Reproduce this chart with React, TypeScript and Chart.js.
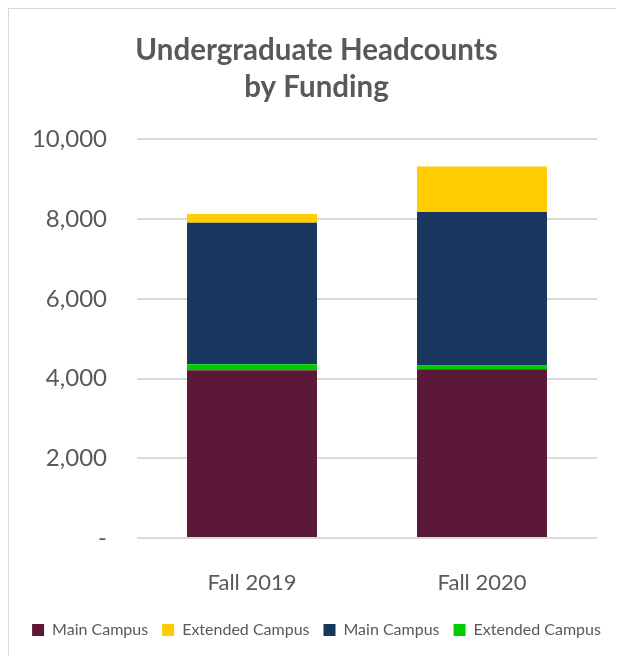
import React, { useEffect, useRef } from "react";
import { Chart, registerables } from "chart.js";

Chart.register(...registerables);

const titleLines = ["Undergraduate Headcounts", "by Funding"];
const categories = ["Fall 2019", "Fall 2020"];
const seriesLabels = ["Main Campus", "Extended Campus", "Main Campus", "Extended Campus"];
// stacked bottom → top: maroon, green, navy, gold
const maroonValues = [4210, 4230];
const greenValues = [150, 100];
const navyValues = [3550, 3850];
const goldValues = [220, 1140];
const yTicks = [0, 2000, 4000, 6000, 8000, 10000];

const MAROON = "#5C1838";
const GOLD = "#FFCC00";
const NAVY = "#17375E";
const GREEN = "#00CC00";
const TEXT = "#595959";
const GRID = "#D9D9D9";
const FONT = "Lato, 'Open Sans', sans-serif";

export default function App() {
  const ref = useRef<HTMLCanvasElement | null>(null);
  useEffect(() => {
    document.documentElement.style.overflow = "hidden";
    document.body.style.overflow = "hidden";
    if (!ref.current) return;
    const chart = new Chart(ref.current, {
      type: "bar",
      data: {
        labels: categories,
        datasets: [
          { label: seriesLabels[0], data: maroonValues, backgroundColor: MAROON, legendIdx: 0 },
          { label: seriesLabels[3], data: greenValues, backgroundColor: GREEN, legendIdx: 3 },
          { label: seriesLabels[2], data: navyValues, backgroundColor: NAVY, legendIdx: 2 },
          { label: seriesLabels[1], data: goldValues, backgroundColor: GOLD, legendIdx: 1 },
        ].map((d) => ({ ...d, barPercentage: 0.565, categoryPercentage: 1, borderWidth: 0 })) as any,
      },
      options: {
        responsive: false,
        animation: false,
        layout: { padding: { left: 0, right: 0, top: 0, bottom: 8 } },
        plugins: {
          tooltip: { enabled: false },
          title: {
            display: true,
            text: titleLines,
            color: TEXT,
            font: { family: FONT, size: 29.5, weight: "bold", lineHeight: 1.26 },
            padding: { top: 22.5, bottom: 33.5 },
          },
          legend: {
            position: "bottom",
            labels: {
              color: TEXT,
              font: { family: FONT, size: 16 },
              boxWidth: 12,
              boxHeight: 12,
              padding: 14,
              sort: (a: any, b: any, data: any) =>
                (data.datasets[a.datasetIndex] as any).legendIdx - (data.datasets[b.datasetIndex] as any).legendIdx,
            },
          },
        },
        scales: {
          x: {
            stacked: true,
            grid: { display: false },
            border: { display: false },
            ticks: { color: TEXT, font: { family: FONT, size: 22 }, padding: 24 },
            afterFit: (s: any) => { s.height = 70; },
          },
          y: {
            stacked: true,
            min: 0,
            max: 10000,
            afterBuildTicks: (s: any) => { s.ticks = yTicks.map((v) => ({ value: v })); },
            grid: { color: GRID, lineWidth: 2, drawTicks: false },
            border: { display: false },
            ticks: {
              color: TEXT,
              font: { family: FONT, size: 24 },
              padding: 30,
              callback: (v: any) => (Number(v) === 0 ? "-" : Number(v).toLocaleString("en-US")),
            },
            afterFit: (s: any) => { s.width = 128; },
          },
          yRight: {
            position: "right",
            display: true,
            grid: { display: false },
            border: { display: false },
            ticks: { display: false },
            afterFit: (s: any) => { s.width = 27; },
          },
        },
      },
    });
    return () => chart.destroy();
  }, []);
  return (
    <div
      style={{
        width: 615,
        height: 647,
        borderLeft: `1px solid ${GRID}`,
        borderTop: `1px solid ${GRID}`,
        background: "#fff",
        overflow: "hidden",
      }}
    >
      <canvas ref={ref} width={615} height={647} style={{ display: "block" }} />
    </div>
  );
}
